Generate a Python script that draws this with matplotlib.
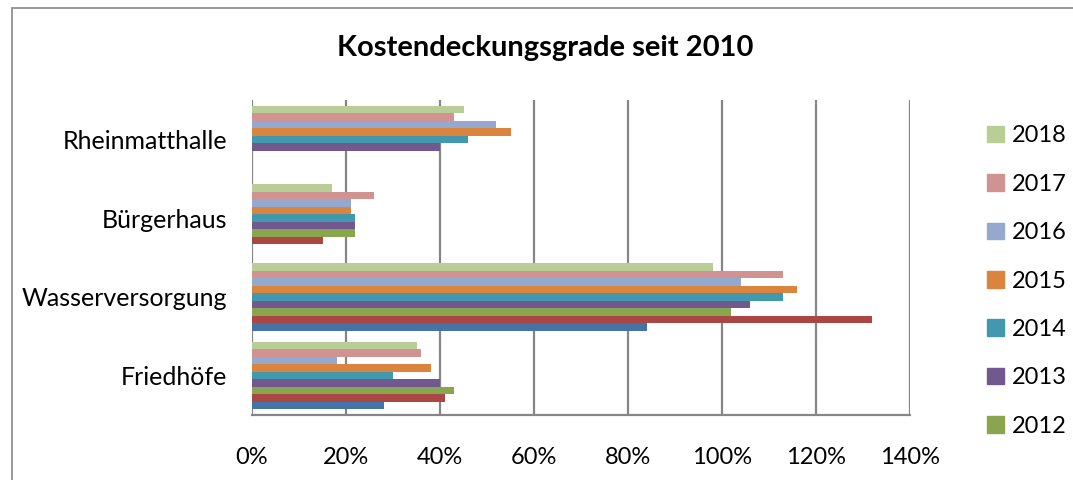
import numpy as np
import matplotlib.pyplot as plt
from matplotlib.patches import Rectangle, Patch

plt.rcParams['font.family'] = ['Lato', 'DejaVu Sans']

categories = ['Friedhöfe', 'Wasserversorgung', 'Bürgerhaus', 'Rheinmatthalle']
years = ['2010', '2011', '2012', '2013', '2014', '2015', '2016', '2017', '2018']
# Werte in Prozent, je Jahr: Friedhöfe, Wasserversorgung, Bürgerhaus, Rheinmatthalle
v2010 = [28, 84, 0, 0]
v2011 = [41, 132, 15, 0]
v2012 = [43, 102, 22, 0]
v2013 = [40, 106, 22, 40]
v2014 = [30, 113, 22, 46]
v2015 = [38, 116, 21, 55]
v2016 = [18, 104, 21, 52]
v2017 = [36, 113, 26, 43]
v2018 = [35, 98, 17, 45]
values = [v2010, v2011, v2012, v2013, v2014, v2015, v2016, v2017, v2018]
colors = ['#4572A7', '#AA4643', '#89A54E', '#71588F', '#4198AF',
          '#DB843D', '#93A9CF', '#D19392', '#B9CD96']

fig = plt.figure(figsize=(10.73, 4.8), dpi=100)
ax = fig.add_axes([252/1073, 1-415/480, (910-252)/1073, 315/480])

h = 0.095
y = np.arange(len(categories))
for i, (yr, vals) in enumerate(zip(years, values)):
    off = (i - 4) * h
    ax.barh(y + off, vals, height=h, color=colors[i], label=yr, zorder=3)

ax.set_xlim(0, 140)
ax.set_ylim(-0.5, 3.5)
ax.set_xticks(range(0, 141, 20))
ax.set_xticklabels([f'{t}%' for t in range(0, 141, 20)], fontsize=17)
ax.set_yticks(y)
ax.set_yticklabels(categories, fontsize=18)
ax.tick_params(length=0)
ax.tick_params(axis='x', pad=23)
ax.tick_params(axis='y', pad=18)
ax.grid(axis='x', color='#868686', linewidth=1.6, zorder=0)
for s in ['top', 'right', 'left']:
    ax.spines[s].set_visible(False)
ax.spines['bottom'].set_color('#868686')
ax.spines['bottom'].set_linewidth(1.6)

fig.text(545/1073, 1-48/480, 'Kostendeckungsgrade seit 2010', ha='center', va='center',
         fontsize=21, fontweight='bold')

# in der Vorlage sind nur 2018 bis 2012 in der Legende sichtbar
handles = [Patch(color=c) for c in colors][::-1][:7]
fig.legend(handles, years[::-1][:7], loc='upper left', bbox_to_anchor=(978/1073, 1-116/480),
           frameon=False, fontsize=17, labelspacing=1.16, handlelength=0.7,
           handleheight=0.7, handletextpad=0.35, borderaxespad=0)

fig.patches.append(Rectangle((12/1073, -0.1), 1.2, 1-8/480+0.1, transform=fig.transFigure,
                             fill=False, edgecolor='#868686', linewidth=1.2))

fig.savefig('out.png', dpi=100)
